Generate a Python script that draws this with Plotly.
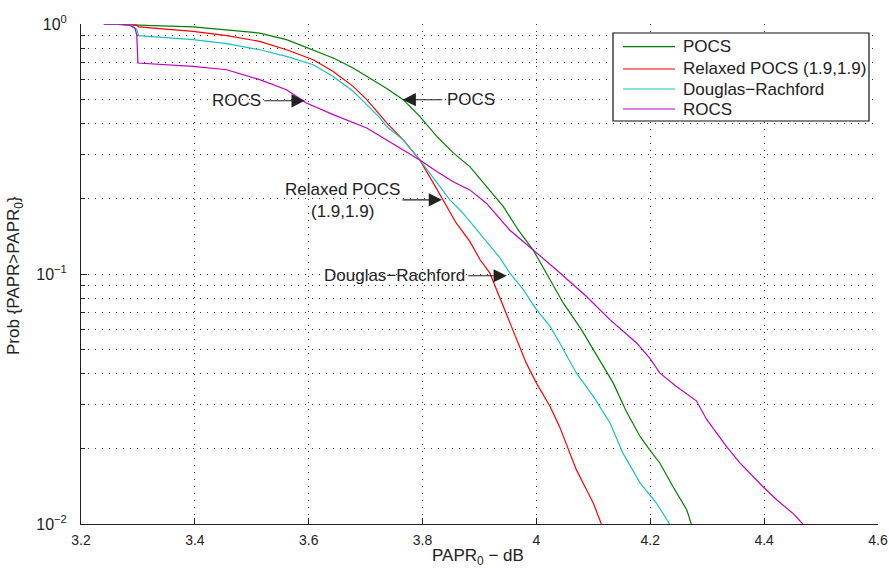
import numpy as np
import plotly.graph_objects as go

# ---- data ----
pocs_x = [3.24, 3.29, 3.30, 3.397, 3.456, 3.514, 3.561, 3.608, 3.643, 3.678, 3.707, 3.737, 3.766,
          3.795, 3.825, 3.854, 3.883, 3.912, 3.942, 3.968, 3.994, 4.024, 4.047, 4.079, 4.111,
          4.135, 4.158, 4.182, 4.199, 4.217, 4.240, 4.264, 4.272]
pocs_y = [1.0, 0.995, 0.99, 0.973, 0.949, 0.920, 0.866, 0.789, 0.731, 0.667, 0.608, 0.552, 0.498,
          0.427, 0.355, 0.305, 0.269, 0.224, 0.186, 0.150, 0.125, 0.0949, 0.0766, 0.0599, 0.0454,
          0.0366, 0.0282, 0.0224, 0.0198, 0.0175, 0.0141, 0.0114, 0.01]

relaxed_x = [3.24, 3.29, 3.298, 3.301, 3.397, 3.456, 3.514, 3.561, 3.608, 3.643, 3.678, 3.702,
             3.725, 3.737, 3.766, 3.795, 3.819, 3.836, 3.859, 3.883, 3.901, 3.918, 3.942, 3.959,
             3.982, 4.0, 4.024, 4.041, 4.059, 4.07, 4.088, 4.1, 4.114]
relaxed_y = [1.0, 0.995, 0.99, 0.973, 0.934, 0.898, 0.852, 0.789, 0.720, 0.646, 0.563, 0.498,
             0.434, 0.402, 0.344, 0.286, 0.231, 0.198, 0.160, 0.135, 0.114, 0.101, 0.0742, 0.0599,
             0.0441, 0.0366, 0.0295, 0.0244, 0.0192, 0.0165, 0.0137, 0.0121, 0.01]

dr_x = [3.24, 3.28, 3.29, 3.298, 3.301, 3.397, 3.456, 3.514, 3.561, 3.608, 3.643, 3.678, 3.702,
        3.725, 3.737, 3.766, 3.795, 3.825, 3.848, 3.871, 3.895, 3.918, 3.936, 3.953, 3.977, 4.0,
        4.024, 4.041, 4.07, 4.1, 4.129, 4.152, 4.182, 4.211, 4.234]
dr_y = [1.0, 0.995, 0.985, 0.95, 0.898, 0.866, 0.834, 0.789, 0.742, 0.687, 0.617, 0.538, 0.476,
        0.421, 0.389, 0.344, 0.286, 0.231, 0.198, 0.175, 0.150, 0.129, 0.116, 0.101, 0.0866, 0.072,
        0.0617, 0.053, 0.0402, 0.0324, 0.0254, 0.0192, 0.0146, 0.0121, 0.01]

rocs_x = [3.24, 3.27, 3.285, 3.295, 3.298, 3.30, 3.397, 3.456, 3.514, 3.561, 3.596, 3.643, 3.702,
          3.766, 3.795, 3.825, 3.854, 3.883, 3.912, 3.953, 3.994, 4.035, 4.088, 4.129, 4.176,
          4.199, 4.217, 4.246, 4.281, 4.299, 4.334, 4.357, 4.398, 4.422, 4.451, 4.468]
rocs_y = [1.0, 0.998, 0.99, 0.96, 0.9, 0.698, 0.677, 0.656, 0.599, 0.546, 0.483, 0.434, 0.384,
          0.314, 0.286, 0.257, 0.234, 0.217, 0.192, 0.150, 0.125, 0.104, 0.0813, 0.0657, 0.053,
          0.0461, 0.0401, 0.0355, 0.0311, 0.0262, 0.0204, 0.0176, 0.0141, 0.0125, 0.0110, 0.01]

x_ticks = [3.2, 3.4, 3.6, 3.8, 4.0, 4.2, 4.4, 4.6]
x_tick_labels = ["3.2", "3.4", "3.6", "3.8", "4", "4.2", "4.4", "4.6"]
y_ticks = [0.01, 0.1, 1]
y_tick_labels = ["10<sup>−2</sup>", "10<sup>−1</sup>", "10<sup>0</sup>"]
y_minor = [0.02, 0.03, 0.04, 0.05, 0.06, 0.07, 0.08, 0.09,
           0.2, 0.3, 0.4, 0.5, 0.6, 0.7, 0.8, 0.9]

FONT = "Liberation Sans, Arial, Helvetica, sans-serif"
TXT = "#222222"
LBL = 17

series = [
    ("POCS", pocs_x, pocs_y, "#008000"),
    ("Relaxed POCS (1.9,1.9)", relaxed_x, relaxed_y, "#FF0000"),
    ("Douglas−Rachford", dr_x, dr_y, "#1CBFBF"),
    ("ROCS", rocs_x, rocs_y, "#BF00BF"),
]

fig = go.Figure()
for name, xs, ys, col in series:
    fig.add_trace(go.Scatter(x=xs, y=ys, mode="lines", name=name, showlegend=False,
                             line=dict(color=col, width=1.2)))

grid_col = "#333333"
grid_dash = "1px,6px"
fig.update_xaxes(range=[3.2, 4.6], tickvals=x_ticks, ticktext=x_tick_labels,
                 showline=True, linecolor="#222", linewidth=1, mirror=False,
                 ticks="inside", ticklen=6, tickcolor="#222",
                 showgrid=True, gridcolor=grid_col, griddash=grid_dash, gridwidth=1,
                 zeroline=False, automargin=False, ticklabelstandoff=3,
                 tickfont=dict(family=FONT, size=14, color=TXT))
fig.update_yaxes(type="log", range=[-2, 0], tickvals=y_ticks, ticktext=y_tick_labels,
                 showline=True, linecolor="#222", linewidth=1, mirror=False,
                 ticks="inside", ticklen=6, tickcolor="#222",
                 showgrid=True, gridcolor=grid_col, griddash=grid_dash, gridwidth=1,
                 minor=dict(ticks="inside", ticklen=4, tickcolor="#222", showgrid=True,
                            gridcolor=grid_col, griddash=grid_dash, gridwidth=1,
                            tickvals=y_minor),
                 zeroline=False, automargin=False, ticklabelstandoff=10,
                 tickfont=dict(family=FONT, size=16, color=TXT))

lbl_font = dict(family=FONT, size=LBL, color=TXT)

# axis titles
fig.add_annotation(xref="paper", yref="paper", x=0, y=0.496, xshift=-66,
                   text="Prob {PAPR&gt;PAPR<sub>0</sub>}", textangle=-90,
                   showarrow=False, font=lbl_font, xanchor="center", yanchor="middle")
fig.add_annotation(xref="paper", yref="paper", x=0.4975, y=0, yshift=-33,
                   text="PAPR<sub>0</sub> − dB", showarrow=False, font=lbl_font,
                   xanchor="center", yanchor="middle")

# in-plot text labels
texts = [
    ("ROCS", 3.5196, 0.493, "right"),
    ("POCS", 3.839, 0.498, "left"),
    ("Relaxed POCS<br>(1.9,1.9)", 3.66, 0.197, "center"),
    ("Douglas−Rachford", 3.878, 0.0984, "right"),
]
for t, x, y, anc in texts:
    fig.add_annotation(x=x, y=np.log10(y), text=t, showarrow=False, xanchor=anc,
                       yanchor="middle", font=lbl_font, align="center")

# arrows: (tip x, tip y, pixel offset of tail)
arrows = [
    (3.593, 0.493, -42),
    (3.765, 0.498, 41),
    (3.834, 0.198, -41),
    (3.948, 0.0984, -40),
]
for x, y, ax in arrows:
    fig.add_annotation(x=x, y=np.log10(y), ax=ax, ay=0, text="", showarrow=True,
                       arrowhead=2, arrowsize=2.4, arrowwidth=1.1, arrowcolor="#222")

# legend box drawn in paper coordinates
lx0, lx1, ly0, ly1 = 0.6675, 0.9887, 0.806, 0.982
fig.add_shape(type="rect", xref="paper", yref="paper", x0=lx0, x1=lx1, y0=ly0, y1=ly1,
              line=dict(color="#111", width=1.2), fillcolor="white", layer="above")
rows = [0.9546, 0.910, 0.870, 0.830]
for (name, _, _, col), ry in zip(series, rows):
    fig.add_shape(type="line", xref="paper", yref="paper", x0=0.680, x1=0.7453, y0=ry, y1=ry,
                  line=dict(color=col, width=1.2), layer="above")
    fig.add_annotation(xref="paper", yref="paper", x=0.7528, y=ry, text=name, showarrow=False,
                       xanchor="left", yanchor="middle", font=lbl_font)

fig.update_layout(
    width=889, height=568,
    margin=dict(l=81, r=11, t=24, b=44),
    paper_bgcolor="white", plot_bgcolor="white",
    font=dict(family=FONT, size=15, color=TXT),
    showlegend=False,
)

# remove the default 8px body margin so the figure sits at the page origin
fig.write_html("out.html", config={"displayModeBar": False, "staticPlot": True},
               post_script="document.body.style.margin='0';document.body.style.overflow='hidden';")
